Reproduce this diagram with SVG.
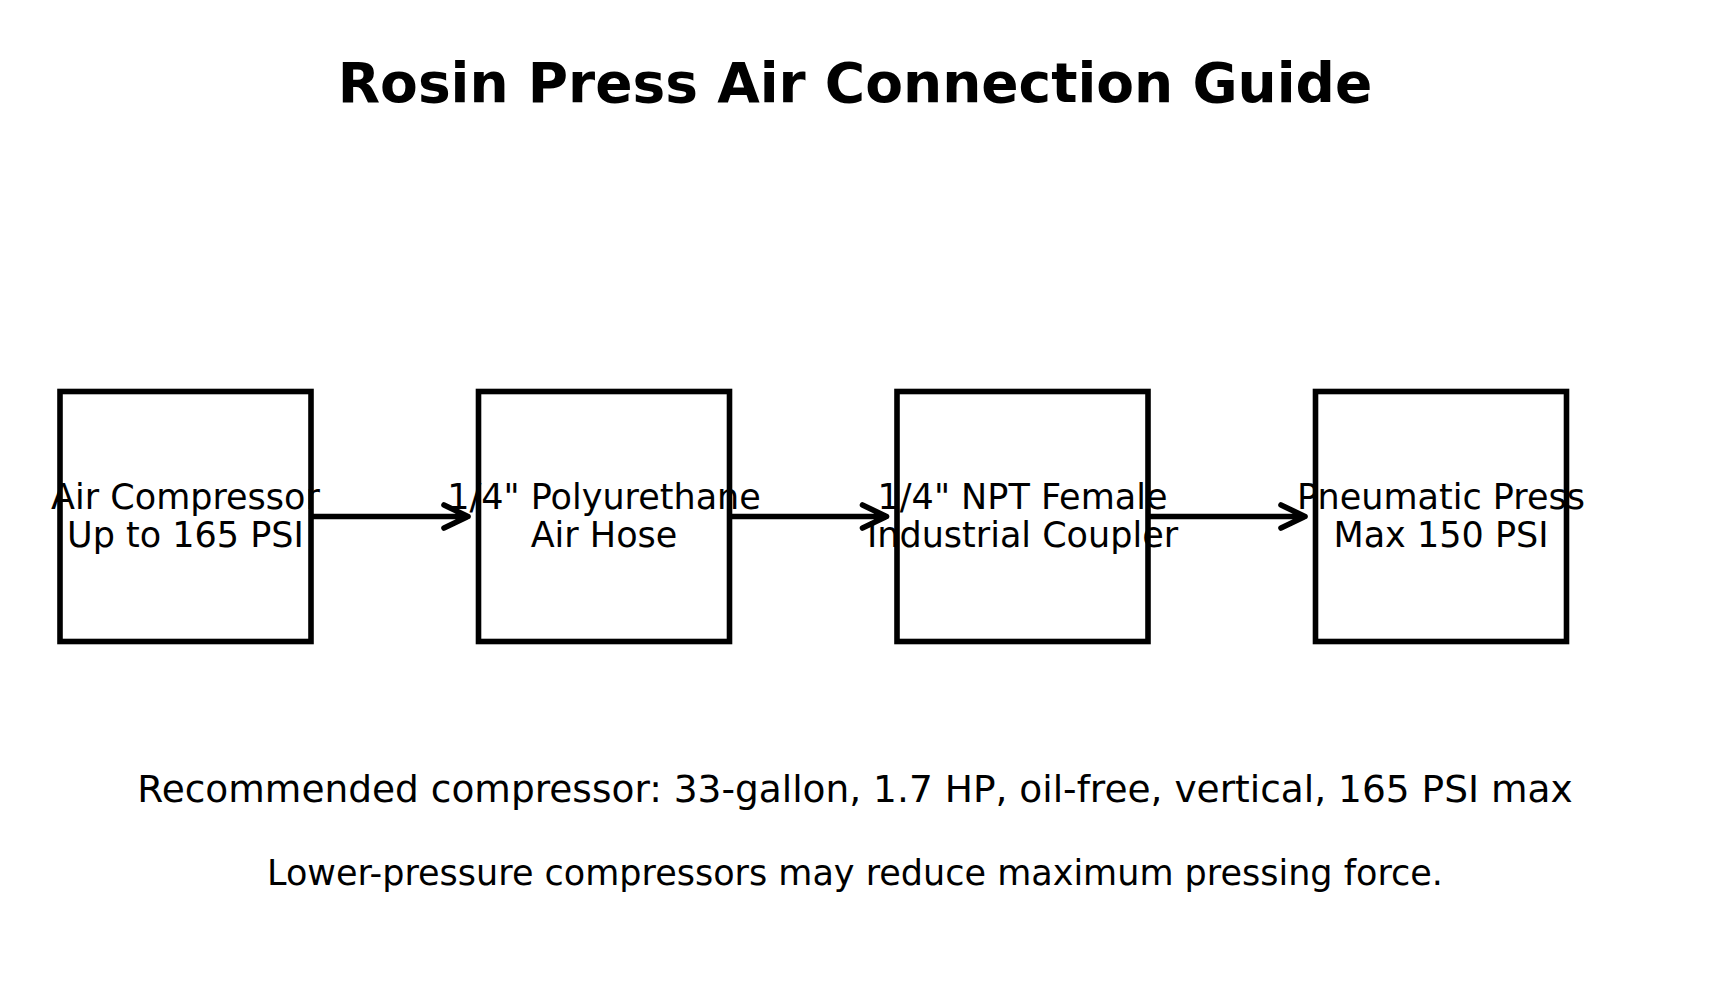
<svg xmlns="http://www.w3.org/2000/svg" width="1710" height="1006" viewBox="0 0 1710 1006">
<style>
.box{fill:#fff;stroke:#000;stroke-width:5.6}
.lbl{font-family:"DejaVu Sans",sans-serif;font-size:35px;fill:#000;text-anchor:middle}
.title{font-family:"DejaVu Sans",sans-serif;font-weight:bold;font-size:55px;fill:#000;text-anchor:middle}
.note{font-family:"DejaVu Sans",sans-serif;fill:#000;text-anchor:middle}
.conn{fill:none;stroke:#000;stroke-width:5.6;stroke-linecap:round;stroke-linejoin:round}
</style>
<rect width="1710" height="1006" fill="#fff"/>
<text class="title" x="855" y="101.5">Rosin Press Air Connection Guide</text>
<g id="connectors">
<path class="conn" d="M311 516.5H468M444 505L468 516.5L444 528"/>
<path class="conn" d="M729.5 516.5H886.5M862.5 505L886.5 516.5L862.5 528"/>
<path class="conn" d="M1148 516.5H1305M1281 505L1305 516.5L1281 528"/>
</g>
<g id="node-compressor">
<rect class="box" x="60" y="391.5" width="251" height="250"/>
<text class="lbl" x="185.5" y="508.5">Air Compressor</text>
<text class="lbl" x="185.5" y="547">Up to 165 PSI</text>
</g>
<g id="node-hose">
<rect class="box" x="478.5" y="391.5" width="251" height="250"/>
<text class="lbl" x="604" y="508.5">1/4" Polyurethane</text>
<text class="lbl" x="604" y="547">Air Hose</text>
</g>
<g id="node-coupler">
<rect class="box" x="897" y="391.5" width="251" height="250"/>
<text class="lbl" x="1022.5" y="508.5">1/4" NPT Female</text>
<text class="lbl" x="1022.5" y="547">Industrial Coupler</text>
</g>
<g id="node-press">
<rect class="box" x="1315.5" y="391.5" width="251" height="250"/>
<text class="lbl" x="1441" y="508.5">Pneumatic Press</text>
<text class="lbl" x="1441" y="547">Max 150 PSI</text>
</g>
<text class="note" x="855" y="801.5" font-size="37.5">Recommended compressor: 33-gallon, 1.7 HP, oil-free, vertical, 165 PSI max</text>
<text class="note" x="855" y="884.5" font-size="35">Lower-pressure compressors may reduce maximum pressing force.</text>
</svg>
